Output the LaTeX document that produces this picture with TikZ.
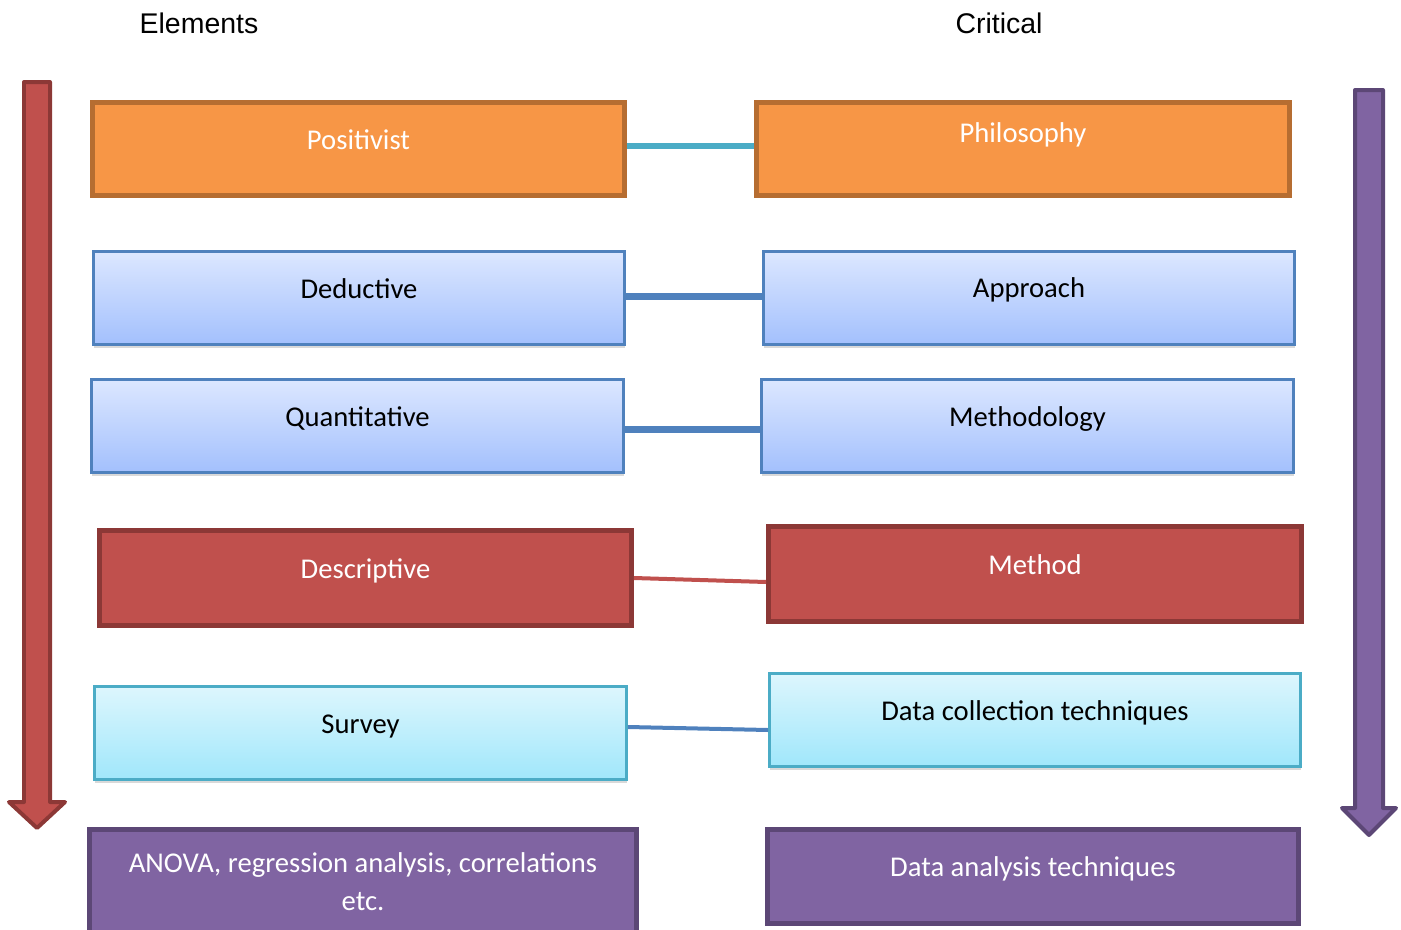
\documentclass[tikz,border=0pt]{standalone}
\usepackage{fontspec}
\setmainfont{Carlito}
\newfontfamily\headfont{Liberation Sans}
\usepackage{xcolor}
\usepackage{tikz}
\usetikzlibrary{shapes,backgrounds}
\usetikzlibrary{arrows,fit,positioning,calc}
\usetikzlibrary{shadows}

\definecolor{orfill}{HTML}{F79646}
\definecolor{ordraw}{HTML}{B66D31}
\definecolor{bltop}{HTML}{DCE7FF}
\definecolor{blbot}{HTML}{A3C0FD}
\definecolor{bldraw}{HTML}{4F81BD}
\definecolor{cytop}{HTML}{DDF6FD}
\definecolor{cybot}{HTML}{A0E7FB}
\definecolor{cydraw}{HTML}{4BACC6}
\definecolor{rdfill}{HTML}{C0504D}
\definecolor{rddraw}{HTML}{8C3836}
\definecolor{pufill}{HTML}{8064A2}
\definecolor{pudraw}{HTML}{5C4776}

\begin{document}
\begin{tikzpicture}[x=0.02cm,y=-0.02cm,semithick]

\tikzstyle{every box}=[rectangle, minimum width=10.64cm, minimum height=1.86cm,
inner sep=0pt, text centered, text height=0.3cm, text depth=0.3cm,
font=\fontsize{16.3pt}{22pt}\selectfont]

\tikzstyle{orange box}=[every box, fill=orfill, draw=ordraw, line width=0.1cm, text=white]
\tikzstyle{blue box}=[every box, top color=bltop, bottom color=blbot, draw=bldraw,
line width=0.06cm, text=black,
drop shadow={opacity=0.3, shadow xshift=0.5pt, shadow yshift=-2pt}]
\tikzstyle{cyan box}=[blue box, top color=cytop, bottom color=cybot, draw=cydraw]
\tikzstyle{red box}=[every box, fill=rdfill, draw=rddraw, line width=0.1cm, text=white,
minimum height=1.9cm]
\tikzstyle{purple box}=[every box, fill=pufill, draw=pudraw, line width=0.1cm, text=white]
\tikzstyle{head}=[font=\headfont\fontsize{16.2pt}{19pt}\selectfont]

\useasboundingbox (0,0) rectangle (1401,930);

% column headings
\node[head] (elem) at (199,23) {Elements};
\node[head] (crit) at (999,23) {Critical};

% big downward arrows at both sides
\draw[fill=rdfill, draw=rddraw, line width=0.08cm, line join=round]
(24,82) -- (50,82) -- (50,802) -- (65,802) -- (37,828) -- (9,802) -- (24,802) -- cycle;
\draw[fill=pufill, draw=pudraw, line width=0.08cm, line join=round]
(1355,90) -- (1383,90) -- (1383,808) -- (1396,808) -- (1369,835) -- (1342,808) -- (1355,808) -- cycle;

% left column
\node[orange box]
(pos) at (358.5,149)
{Positivist};

\node[blue box, minimum width=10.62cm]
(ded) at (359,298)
{Deductive};

\node[blue box]
(quant) at (357.5,426)
{Quantitative};

\node[red box]
(desc) at (365.5,578)
{Descriptive};

\node[cyan box]
(surv) at (360.5,733)
{Survey};

\node[purple box, minimum width=10.94cm, minimum height=2.08cm,
text height=, text depth=, align=center]
(anova) at (363,881.5)
{ANOVA, regression analysis, correlations\\ etc.};

% right column
\node[orange box, minimum width=10.66cm, text depth=0.58cm]
(phil) at (1023,149)
{Philosophy};

\node[blue box, minimum width=10.62cm, text depth=0.34cm]
(appr) at (1029,298)
{Approach};

\node[blue box]
(meth) at (1027.5,426)
{Methodology};

\node[red box, minimum width=10.66cm]
(method) at (1035,574)
{Method};

\node[cyan box, minimum width=10.62cm]
(dct) at (1035,720)
{Data collection techniques};

\node[purple box, minimum width=10.62cm, minimum height=1.88cm]
(dat) at (1033,876.5)
{Data analysis techniques};

% links between the columns
\draw[cydraw, line width=0.12cm] ([yshift=0.06cm]pos.east) -- ([yshift=0.06cm]phil.west);
\draw[bldraw, line width=0.14cm] ([yshift=0.04cm]ded.east) -- ([yshift=0.04cm]appr.west);
\draw[bldraw, line width=0.14cm] ([yshift=-0.06cm]quant.east) -- ([yshift=-0.06cm]meth.west);
\draw[rdfill, line width=0.08cm] (desc.east) -- ($(method.west)+(0,8)$);
\draw[bldraw, line width=0.08cm] ($(surv.east)+(0,-6)$) -- ($(dct.west)+(0,10)$);

\end{tikzpicture}
\end{document}
